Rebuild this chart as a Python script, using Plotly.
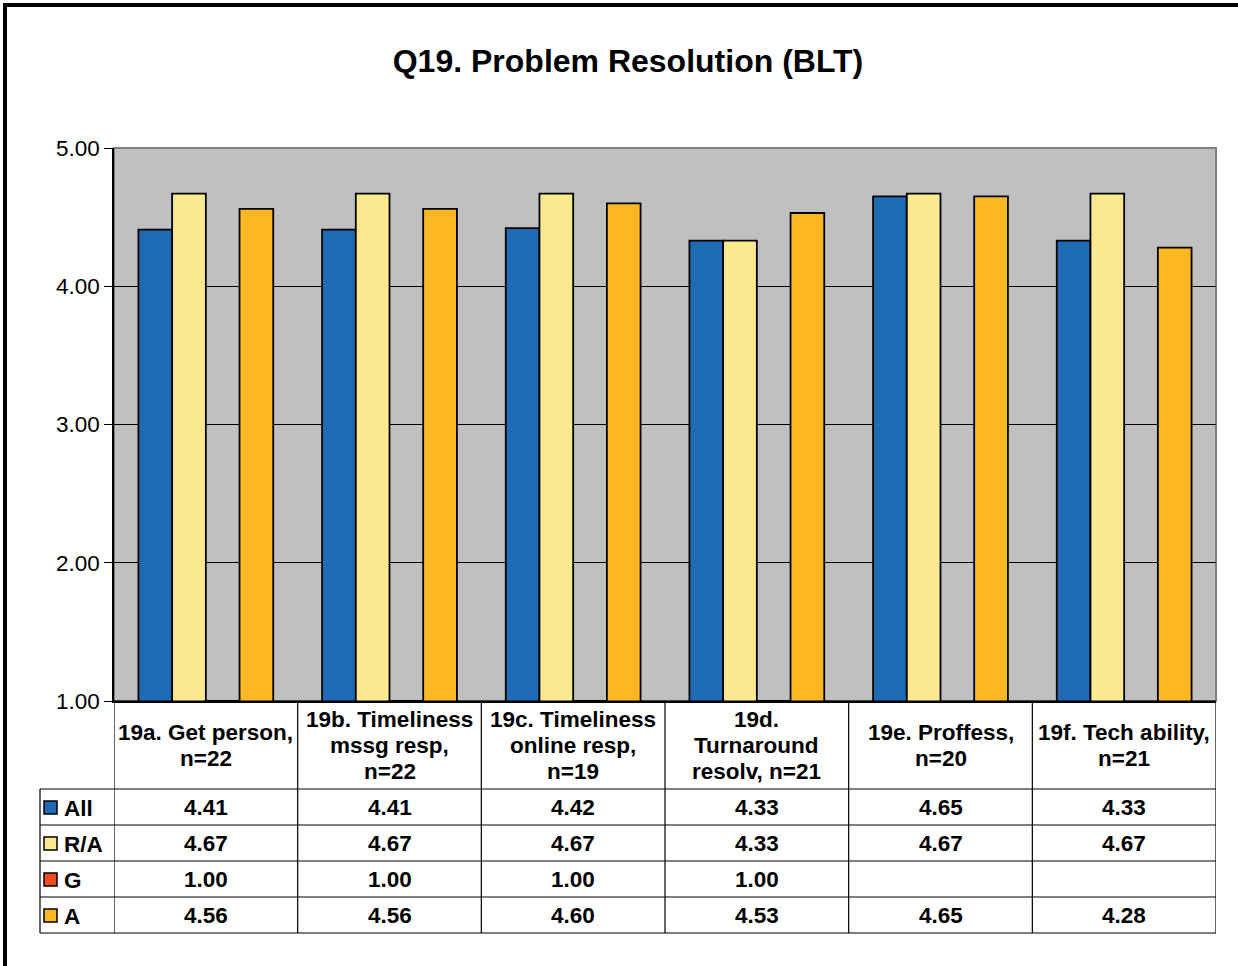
import plotly.graph_objects as go

# data
categories = [
    "19a. Get person,<br>n=22",
    "19b. Timeliness<br>mssg resp,<br>n=22",
    "19c. Timeliness<br>online resp,<br>n=19",
    "19d.<br>Turnaround<br>resolv, n=21",
    "19e. Proffess,<br>n=20",
    "19f. Tech ability,<br>n=21",
]
series_names = ["All", "R/A", "G", "A"]
all_vals = [4.41, 4.41, 4.42, 4.33, 4.65, 4.33]
ra_vals = [4.67, 4.67, 4.67, 4.33, 4.67, 4.67]
g_vals = [1.00, 1.00, 1.00, 1.00, None, None]
a_vals = [4.56, 4.56, 4.60, 4.53, 4.65, 4.28]

colors = ["#1E6AB4", "#FCE98F", "#EF4A22", "#FBB822"]
series_vals = [all_vals, ra_vals, g_vals, a_vals]

W, H = 1238, 966
L, R, T, B = 114, 1216, 148, 701  # plot area in pixels
FONT = "Liberation Sans, Arial, sans-serif"
FS = 22.5


def px_x(px):
    return (px - L) / (R - L)


def px_y(py):
    return (B - py) / (B - T)


fig = go.Figure()
xs = list(range(len(categories)))
for name, vals, col in zip(series_names, series_vals, colors):
    fig.add_trace(go.Bar(
        x=xs, y=[v if v is not None else 0 for v in vals], name=name,
        marker=dict(color=col, line=dict(color="black", width=1.8)),
        hoverinfo="skip",
    ))

shapes = []
annotations = []

# plot area border (top/right gray)
shapes.append(dict(type="rect", xref="paper", yref="paper", x0=0, x1=1, y0=0, y1=1,
                   line=dict(color="#808080", width=2), layer="below"))

# data table
row_lines = [701, 789, 825, 861, 897, 933]
for i, py in enumerate(row_lines):
    x0 = px_x(L) if i == 0 else px_x(40)
    shapes.append(dict(type="line", xref="paper", yref="paper", x0=x0, x1=1,
                       y0=px_y(py), y1=px_y(py), line=dict(color="black", width=1.2)))
for k in range(len(categories) + 1):
    shapes.append(dict(type="line", xref="x", yref="paper", x0=k - 0.5, x1=k - 0.5,
                       y0=px_y(701), y1=px_y(933), line=dict(color="black", width=1.2)))
shapes.append(dict(type="line", xref="paper", yref="paper", x0=px_x(40), x1=px_x(40),
                   y0=px_y(789), y1=px_y(933), line=dict(color="black", width=1.2)))

# header labels, one annotation per line for tight spacing
for k, cat in enumerate(categories):
    lines = cat.split("<br>")
    n = len(lines)
    for j, ln in enumerate(lines):
        cy = 745 + (j - (n - 1) / 2) * 26
        annotations.append(dict(xref="x", yref="paper", x=k, y=px_y(cy), text="<b>%s</b>" % ln,
                                showarrow=False, font=dict(family=FONT, size=FS, color="black"),
                                xanchor="center", yanchor="middle"))

row_centers = [807, 843, 879, 915]
for name, vals, col, cy in zip(series_names, series_vals, colors, row_centers):
    shapes.append(dict(type="rect", xref="paper", yref="paper",
                       x0=px_x(44), x1=px_x(57), y0=px_y(cy + 7), y1=px_y(cy - 6),
                       fillcolor=col, line=dict(color="black", width=1.5)))
    annotations.append(dict(xref="paper", yref="paper", x=px_x(62), y=px_y(cy + 1),
                            text="<b>%s</b>" % name, showarrow=False,
                            font=dict(family=FONT, size=FS, color="black"),
                            xanchor="left", yanchor="middle"))
    for k, v in enumerate(vals):
        if v is None:
            continue
        annotations.append(dict(xref="x", yref="paper", x=k, y=px_y(cy),
                                text="<b>%.2f</b>" % v, showarrow=False,
                                font=dict(family=FONT, size=FS, color="black"),
                                xanchor="center", yanchor="middle"))

# outer chart frame (top and left)
shapes.append(dict(type="line", xref="paper", yref="paper", x0=px_x(3), x1=px_x(W + 5),
                   y0=px_y(5), y1=px_y(5), line=dict(color="black", width=4)))
shapes.append(dict(type="line", xref="paper", yref="paper", x0=px_x(5), x1=px_x(5),
                   y0=px_y(3), y1=px_y(H + 5), line=dict(color="black", width=4)))

fig.update_layout(
    width=W, height=H,
    margin=dict(l=L, r=W - R, t=T, b=H - B),
    paper_bgcolor="white",
    plot_bgcolor="#C0C0C0",
    barmode="group",
    bargap=0.266,
    bargroupgap=0,
    showlegend=False,
    title=dict(text="<b>Q19. Problem Resolution (BLT)</b>", x=628 / W, xanchor="center",
               y=1 - 61 / H, yanchor="middle",
               font=dict(family=FONT, size=32, color="black")),
    xaxis=dict(range=[-0.5, len(categories) - 0.5], showticklabels=False, showgrid=False,
               showline=True, linecolor="black", linewidth=1.5, zeroline=False),
    yaxis=dict(range=[1, 5], tickvals=[1, 2, 3, 4, 5], tickformat=".2f",
               ticks="outside", ticklen=8, tickcolor="black", tickwidth=1.2,
               showline=True, linecolor="black", linewidth=1.5,
               showgrid=True, gridcolor="black", gridwidth=1, zeroline=False,
               tickfont=dict(family=FONT, size=FS, color="black")),
    shapes=shapes,
    annotations=annotations,
)

fig.write_html("out.html", config={"displayModeBar": False},
               post_script="document.body.style.margin='0';")
